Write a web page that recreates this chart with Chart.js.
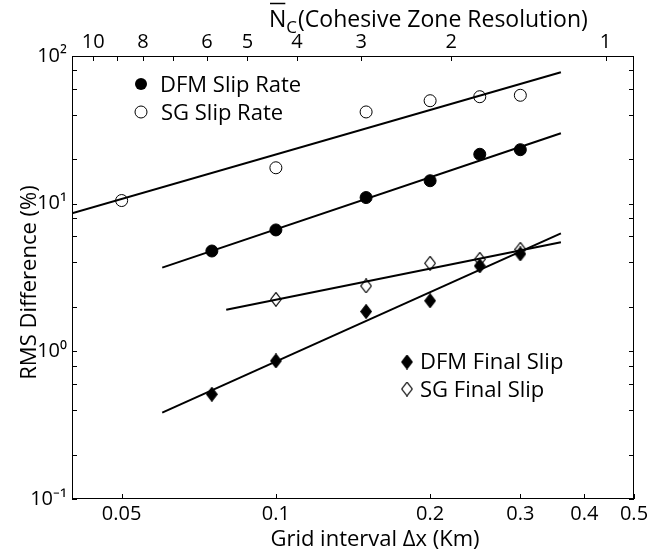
<!DOCTYPE html>
<html><head><meta charset="utf-8">
<script src="https://cdn.jsdelivr.net/npm/chart.js@4/dist/chart.umd.min.js"></script>
<style>html,body{margin:0;padding:0;background:#fff}#wrap{width:663px;height:555px;position:relative}</style>
</head><body><div id="wrap"><canvas id="c"></canvas></div>
<script>
// ---- data ----
const sgSlipRateX = [0.05, 0.1, 0.15, 0.2, 0.25, 0.3];
const sgSlipRate  = [10.5, 17.5, 41.8, 49.8, 53.0, 54.2];
const dfmSlipRateX = [0.075, 0.1, 0.15, 0.2, 0.25, 0.3];
const dfmSlipRate  = [4.78, 6.64, 11.0, 14.3, 21.6, 23.2];
const dfmFinalSlipX = [0.075, 0.1, 0.15, 0.2, 0.25, 0.3];
const dfmFinalSlip  = [0.512, 0.861, 1.86, 2.2, 3.79, 4.57];
const sgFinalSlipX = [0.1, 0.15, 0.2, 0.25, 0.3];
const sgFinalSlip  = [2.25, 2.77, 3.95, 4.2, 4.91];
// trend (fit) lines, endpoints
const sgSlipRateFitX = [0.04, 0.36];   const sgSlipRateFit = [8.6, 77.6];
const dfmSlipRateFitX = [0.06, 0.36];  const dfmSlipRateFit = [3.69, 30.0];
const sgFinalSlipFitX = [0.08, 0.36];  const sgFinalSlipFit = [1.91, 5.48];
const dfmFinalSlipFitX = [0.06, 0.36]; const dfmFinalSlipFit = [0.385, 6.3];
// ticks
const xTicks = [0.05, 0.1, 0.2, 0.3, 0.4, 0.5];
const yTicks = [0.1, 1, 10, 100];
const yTickLabels = ['10\u207B\u00B9', '10\u2070', '10\u00B9', '10\u00B2'];
const nTicks = [10, 9, 8, 7, 6, 5, 4, 3, 2, 1];
const nTickLabels = ['10', '', '8', '', '6', '5', '4', '3', '2', '1'];
const nScale = 0.44; // grid interval = nScale / Nc
const seriesLabels = ['DFM Slip Rate', 'SG Slip Rate', 'DFM Final Slip', 'SG Final Slip'];

const FONT = "'Open Sans', sans-serif";
const pts = (xs, ys) => xs.map((x, i) => ({x, y: ys[i]}));

function diamond(filled) {
  const w = 12, h = 15, c = document.createElement('canvas');
  c.width = w; c.height = h;
  const g = c.getContext('2d');
  g.beginPath();
  g.moveTo(w/2, 0.7); g.lineTo(w-0.7, h/2); g.lineTo(w/2, h-0.7); g.lineTo(0.7, h/2); g.closePath();
  if (filled) { g.fillStyle = '#000'; g.fill(); }
  g.strokeStyle = '#000'; g.lineWidth = 1.2; g.stroke();
  return c;
}
const dFill = diamond(true), dOpen = diamond(false);

const markerSets = [
  {label: seriesLabels[0], data: pts(dfmSlipRateX, dfmSlipRate), pointStyle: 'circle', pointRadius: 6, backgroundColor: '#000', borderColor: '#000', borderWidth: 1},
  {label: seriesLabels[1], data: pts(sgSlipRateX, sgSlipRate), pointStyle: 'circle', pointRadius: 6, backgroundColor: 'rgba(0,0,0,0)', borderColor: '#000', borderWidth: 1},
  {label: seriesLabels[2], data: pts(dfmFinalSlipX, dfmFinalSlip), pointStyle: dFill, pointRadius: 7, backgroundColor: '#000', borderColor: '#000', borderWidth: 1},
  {label: seriesLabels[3], data: pts(sgFinalSlipX, sgFinalSlip), pointStyle: dOpen, pointRadius: 7, backgroundColor: 'rgba(0,0,0,0)', borderColor: '#000', borderWidth: 1},
].map(d => Object.assign(d, {showLine: false, pointHoverRadius: d.pointRadius}));

const fitSets = [
  pts(sgSlipRateFitX, sgSlipRateFit), pts(dfmSlipRateFitX, dfmSlipRateFit),
  pts(sgFinalSlipFitX, sgFinalSlipFit), pts(dfmFinalSlipFitX, dfmFinalSlipFit)
].map((data, i) => ({label: 'fit' + i, data, showLine: true, borderColor: '#000', borderWidth: 2, pointRadius: 0, pointHoverRadius: 0, fill: false}));

const decor = {
  id: 'decor',
  afterDraw(chart) {
    const {ctx, chartArea: a, scales} = chart;
    const x = scales.x, y = scales.y, x2 = scales.x2;
    ctx.save();
    ctx.strokeStyle = '#000'; ctx.lineWidth = 1;
    ctx.strokeRect(a.left + 0.5, a.top + 0.5, a.right - a.left - 1, a.bottom - a.top - 1);
    const L = 5;
    ctx.beginPath();
    xTicks.forEach(v => { const p = Math.round(x.getPixelForValue(v)) + 0.5; ctx.moveTo(p, a.bottom); ctx.lineTo(p, a.bottom - L); });
    nTicks.forEach(n => { const p = Math.round(x2.getPixelForValue(nScale / n)) + 0.5; ctx.moveTo(p, a.top); ctx.lineTo(p, a.top + L); });
    const yMinor = [];
    yTicks.forEach((d, i) => { yMinor.push(d); if (i < yTicks.length - 1) [2, 4, 6, 8].forEach(m => yMinor.push(d * m)); });
    yMinor.forEach(v => {
      const p = Math.round(y.getPixelForValue(v)) + 0.5;
      ctx.moveTo(a.left, p); ctx.lineTo(a.left + L, p);
      ctx.moveTo(a.right, p); ctx.lineTo(a.right - L, p);
    });
    ctx.stroke();

    // legends
    ctx.fillStyle = '#000';
    ctx.font = "22px " + FONT; ctx.textBaseline = 'alphabetic'; ctx.textAlign = 'left';
    const leg = [
      {i: 0, mx: a.left + 69, my: a.top + 28, tx: a.left + 88, ty: a.top + 36},
      {i: 1, mx: a.left + 69, my: a.top + 56, tx: a.left + 89, ty: a.top + 64},
      {i: 2, mx: a.left + 335, my: a.top + 306, tx: a.left + 348, ty: a.top + 313},
      {i: 3, mx: a.left + 335, my: a.top + 333, tx: a.left + 348, ty: a.top + 341},
    ];
    leg.forEach(e => {
      const ds = markerSets[e.i];
      if (ds.pointStyle === 'circle') {
        ctx.beginPath(); ctx.arc(e.mx, e.my, ds.pointRadius, 0, Math.PI * 2);
        if (ds.backgroundColor === '#000') ctx.fill(); else ctx.stroke();
      } else {
        ctx.drawImage(ds.pointStyle, e.mx - ds.pointStyle.width / 2, e.my - ds.pointStyle.height / 2);
      }
      ctx.fillText(ds.label, e.tx, e.ty);
    });

    // axis titles
    ctx.font = "22px " + FONT;
    ctx.textAlign = 'center';
    ctx.fillText('Grid interval \u0394x (Km)', (a.left + a.right) / 2 + 22, 546);
    ctx.save();
    ctx.translate(36, (a.top + a.bottom) / 2 + 5);
    ctx.rotate(-Math.PI / 2);
    ctx.fillText('RMS Difference (%)', 0, 0);
    ctx.restore();

    // top title: N-bar with subscript C
    ctx.textAlign = 'left';
    let tx = 269;
    ctx.font = "23px " + FONT;
    ctx.fillText('N', tx, 27);
    const nw = ctx.measureText('N').width;
    ctx.beginPath(); ctx.moveTo(tx + 1, 3.5); ctx.lineTo(tx + nw - 1, 3.5); ctx.lineWidth = 1.5; ctx.stroke();
    tx += nw;
    ctx.font = "17px " + FONT;
    ctx.fillText('C', tx, 33);
    tx += ctx.measureText('C').width + 1;
    ctx.font = "23px " + FONT;
    ctx.fillText('(Cohesive Zone Resolution)', tx, 27);
    ctx.restore();
  }
};

new Chart(document.getElementById('c'), {
  type: 'scatter',
  data: {datasets: [...markerSets, ...fitSets]},
  options: {
    responsive: true, maintainAspectRatio: false, animation: false,
    layout: {padding: {left: 0, right: 29, top: 0, bottom: 0}},
    plugins: {legend: {display: false}, tooltip: {enabled: false}},
    scales: {
      x: {
        type: 'logarithmic', position: 'bottom', min: 0.04, max: 0.5,
        grid: {display: false, drawTicks: false}, border: {display: false},
        afterBuildTicks: s => { s.ticks = xTicks.map(v => ({value: v})); },
        afterFit: s => { s.height = 56; },
        ticks: {autoSkip: false, maxRotation: 0, padding: 3, color: '#000', font: {family: FONT, size: 20},
          callback: (v, i) => String(xTicks[i])}
      },
      x2: {
        type: 'logarithmic', position: 'top', axis: 'x', min: 0.04, max: 0.5,
        grid: {display: false, drawTicks: false}, border: {display: false},
        afterBuildTicks: s => { s.ticks = nTicks.map(n => ({value: nScale / n})); },
        afterFit: s => { s.height = 56; },
        ticks: {autoSkip: false, maxRotation: 0, padding: 2, color: '#000', font: {family: FONT, size: 20},
          callback: (v, i) => nTickLabels[i]}
      },
      y: {
        type: 'logarithmic', position: 'left', min: 0.1, max: 100,
        grid: {display: false, drawTicks: false}, border: {display: false},
        afterBuildTicks: s => { s.ticks = yTicks.map(v => ({value: v})); },
        afterFit: s => { s.width = 72; },
        ticks: {autoSkip: false, padding: 5, color: '#000', font: {family: FONT, size: 20},
          callback: (v, i) => yTickLabels[i]}
      }
    }
  },
  plugins: [decor]
});
</script></body></html>
